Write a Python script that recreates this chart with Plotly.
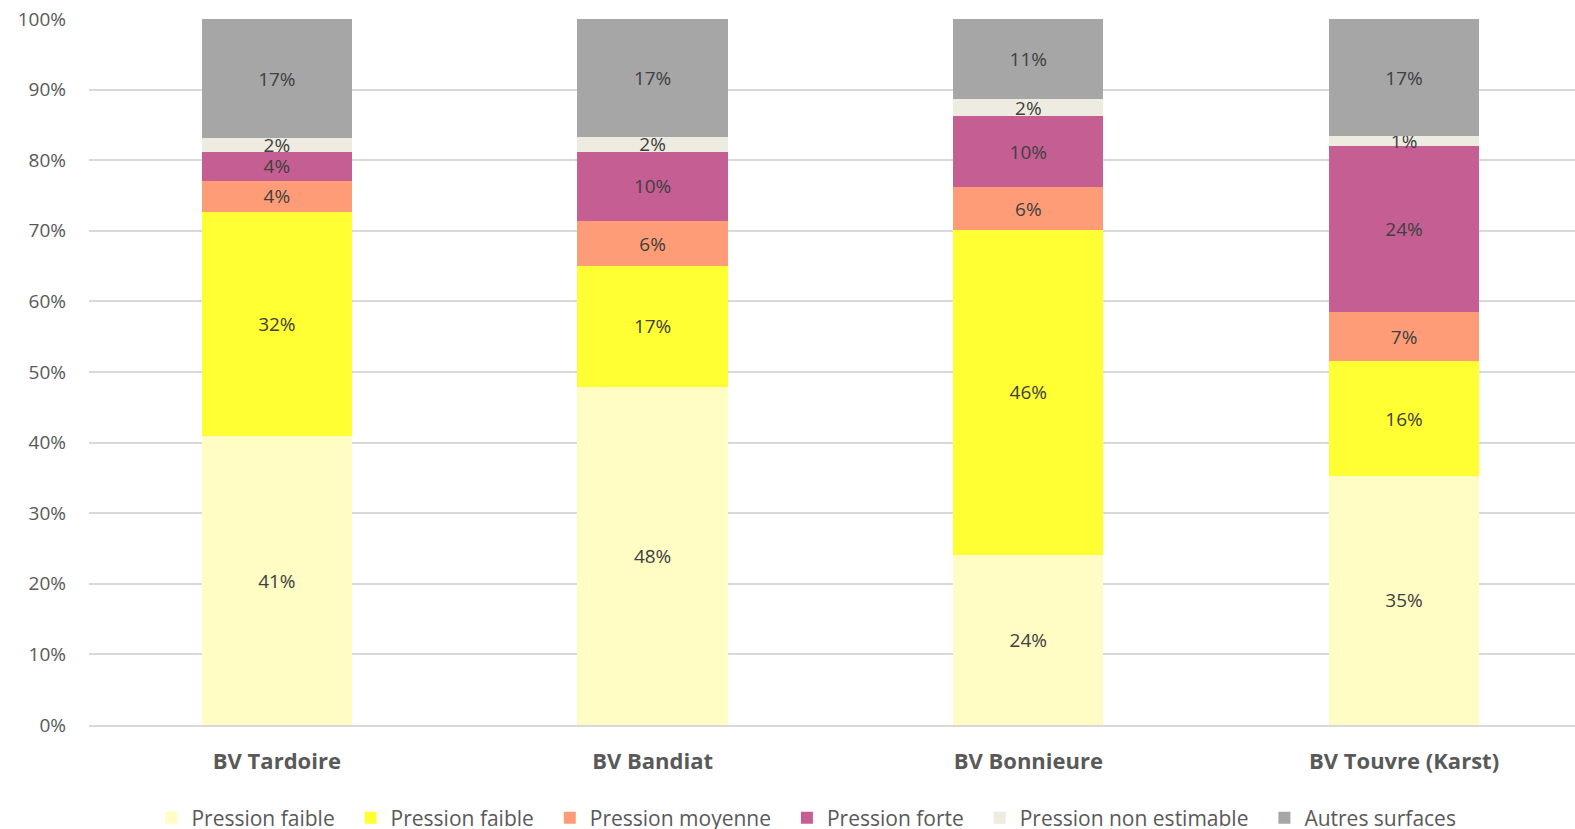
import plotly.graph_objects as go

categories = ["BV Tardoire", "BV Bandiat", "BV Bonnieure", "BV Touvre (Karst)"]
series_names = ["Pression faible", "Pression faible", "Pression moyenne", "Pression forte",
                "Pression non estimable", "Autres surfaces"]
faible_1 = [40.9, 47.9, 24.1, 35.3]
faible_2 = [31.8, 17.1, 46.0, 16.2]
moyenne = [4.4, 6.4, 6.1, 7.0]
forte = [4.1, 9.8, 10.0, 23.5]
non_estimable = [1.9, 2.1, 2.4, 1.4]
autres = [16.9, 16.7, 11.4, 16.6]
colors = ["#FFFCC4", "#FFFF33", "#FF9C78", "#C45E93", "#EEEBE0", "#A6A6A6"]
tick_vals = [0, 10, 20, 30, 40, 50, 60, 70, 80, 90, 100]
tick_text = [f"{v}%" for v in tick_vals]

values = [faible_1, faible_2, moyenne, forte, non_estimable, autres]

fig = go.Figure()
for name, vals, col in zip(series_names, values, colors):
    fig.add_trace(go.Bar(
        x=categories, y=vals, name=name + "\u00a0\u00a0",
        marker=dict(color=col, line=dict(width=0)),
        texttemplate="%{y:.0f}%", textposition="inside",
        insidetextanchor="middle", textangle=0,
        textfont=dict(family="Open Sans", size=19, color="#404040"),
        constraintext="none",
    ))

fig.update_layout(
    barmode="stack",
    bargap=0.6,
    width=1575, height=829,
    margin=dict(l=89, r=0, t=19, b=104, autoexpand=False),
    plot_bgcolor="white", paper_bgcolor="white",
    uniformtext=dict(minsize=19, mode="show"),
    font=dict(family="Open Sans", color="#595959"),
    legend=dict(orientation="h", x=0.042, xanchor="left",
                yref="container", y=0.038, yanchor="top",
                font=dict(family="Open Sans", size=21, color="#595959"),
                traceorder="normal", itemwidth=30, tracegroupgap=0),
    xaxis=dict(showgrid=False, showline=True, linecolor="#D9D9D9", linewidth=1.5,
               range=[-0.5, 3.455],
               ticks="", ticklabelstandoff=16,
               tickfont=dict(family="Open Sans", size=22, color="#595959", weight="bold")),
    yaxis=dict(range=[0, 100], tickmode="array", tickvals=tick_vals, ticktext=tick_text,
               showgrid=True, gridcolor="#D9D9D9", gridwidth=1.5,
               zeroline=False, ticklabelstandoff=22,
               tickfont=dict(family="Open Sans", size=19, color="#595959")),
)

fig.write_html("out.html", config={"displayModeBar": False},
               post_script="document.body.style.margin='0px';")
